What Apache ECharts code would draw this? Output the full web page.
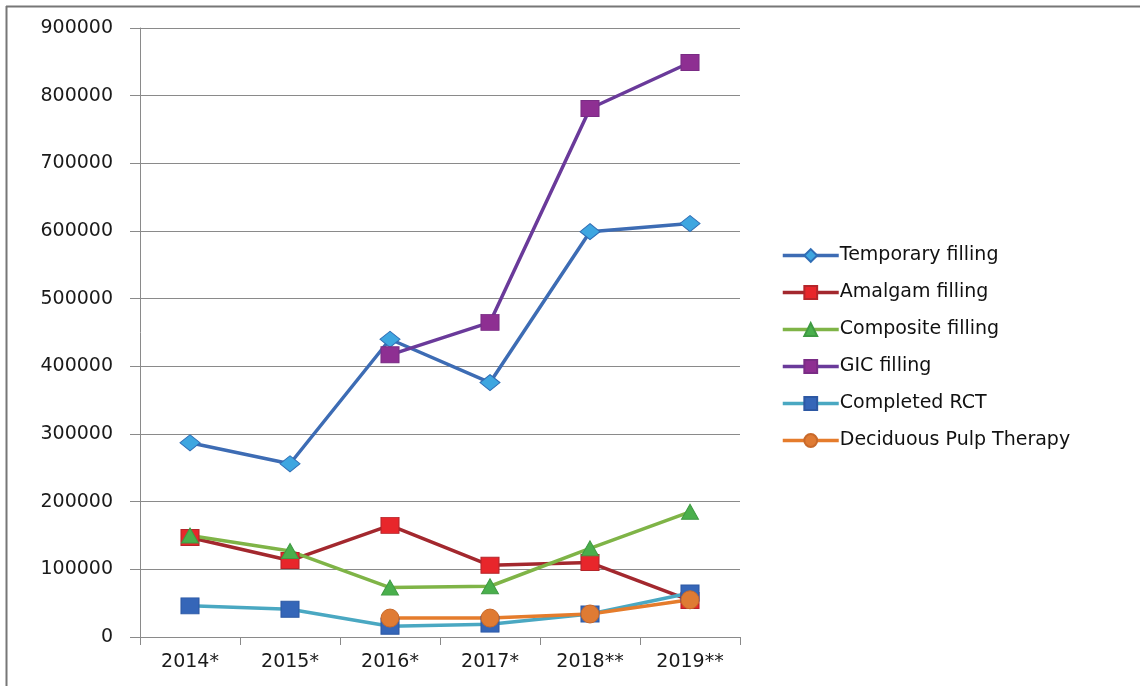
<!DOCTYPE html>
<html>
<head>
<meta charset="utf-8">
<script src="https://cdn.jsdelivr.net/npm/echarts@6/dist/echarts.min.js"></script>
<style>
  html, body { margin: 0; padding: 0; background: #fff; }
  #chart { width: 1140px; height: 686px; }
</style>
</head>
<body>
<div id="chart"></div>
<script>
// Years on the x axis
const years = ['2014*', '2015*', '2016*', '2017*', '2018**', '2019**'];

// Procedure counts per year
const temporaryFilling = [287000, 256000, 440000, 376000, 599000, 611000];
const amalgamFilling   = [147000, 113000, 165000, 106000, 110000, 54000];
const compositeFilling = [150000, 127000, 73000, 75000, 131000, 185000];
const gicFilling       = [null, null, 417000, 465000, 781000, 849000];
const completedRCT     = [46000, 41000, 16000, 19000, 34000, 65000];
const pulpTherapy      = [null, null, 28000, 28000, 34000, 55000];

// Value axis range
const yMin = 0;
const yMax = 900000;
const yStep = 100000;

const FONT = 'DejaVu Sans';

function lineSeries(name, data, lineColor, symbol, symbolSize, fill, border) {
  return {
    name: name,
    type: 'line',
    data: data,
    symbol: symbol,
    symbolSize: symbolSize,
    showAllSymbol: true,
    connectNulls: false,
    lineStyle: { color: lineColor, width: 3.5 },
    itemStyle: { color: fill, borderColor: border, borderWidth: 1 },
    emphasis: { disabled: true },
    animation: false
  };
}

const chart = echarts.init(document.getElementById('chart'), null, { renderer: 'canvas' });

chart.setOption({
  backgroundColor: '#ffffff',
  animation: false,
  grid: { left: 140, right: 400, top: 28, bottom: 49, containLabel: false },
  xAxis: {
    type: 'category',
    data: years,
    boundaryGap: true,
    axisLine: { show: true, lineStyle: { color: '#8a8a8a', width: 1 } },
    axisTick: { show: true, alignWithLabel: false, length: 8, lineStyle: { color: '#8a8a8a' } },
    axisLabel: { color: '#1a1a1a', fontFamily: FONT, fontSize: 19, margin: 16 },
    splitLine: { show: false }
  },
  yAxis: {
    type: 'value',
    min: yMin,
    max: yMax,
    interval: yStep,
    axisLine: { show: true, lineStyle: { color: '#8a8a8a', width: 1 } },
    axisTick: { show: true, inside: false, length: 10, lineStyle: { color: '#8a8a8a' } },
    axisLabel: {
      color: '#1a1a1a', fontFamily: FONT, fontSize: 19, margin: 27,
      formatter: function (v) { return String(v); }
    },
    splitLine: { show: true, lineStyle: { color: '#8a8a8a', width: 1 } }
  },
  legend: {
    orient: 'vertical',
    left: 776,
    top: 241,
    itemWidth: 56,
    itemHeight: 16,
    itemGap: 18,
    selectedMode: false,
    lineStyle: { width: 3.5 },
    textStyle: { color: '#111', fontFamily: FONT, fontSize: 19, padding: [0, 0, 0, -4] },
    data: ['Temporary filling', 'Amalgam filling', 'Composite filling', 'GIC filling', 'Completed RCT', 'Deciduous Pulp Therapy']
  },
  series: [
    lineSeries('Temporary filling', temporaryFilling, '#3d6cb4', 'diamond', [20, 16], '#3ea6e0', '#2f6db5'),
    lineSeries('Amalgam filling', amalgamFilling, '#a3282e', 'rect', [18, 16], '#e8262b', '#b5252a'),
    lineSeries('Composite filling', compositeFilling, '#7fb447', 'triangle', [17, 15], '#4aaf4c', '#3f9a43'),
    lineSeries('GIC filling', gicFilling, '#6a3a9a', 'rect', [18, 16], '#8e2f92', '#7a2c85'),
    lineSeries('Completed RCT', completedRCT, '#4aa8c2', 'rect', [18, 16], '#3566b8', '#2d58a3'),
    lineSeries('Deciduous Pulp Therapy', pulpTherapy, '#e57c2c', 'circle', 18, '#df7b34', '#c9692a')
  ],
  graphic: [
    { type: 'line', shape: { x1: 6, y1: 6.5, x2: 1140, y2: 6.5 }, style: { stroke: '#777', lineWidth: 2 }, silent: true },
    { type: 'line', shape: { x1: 6.5, y1: 6, x2: 6.5, y2: 686 }, style: { stroke: '#777', lineWidth: 2 }, silent: true }
  ]
});
</script>
</body>
</html>
